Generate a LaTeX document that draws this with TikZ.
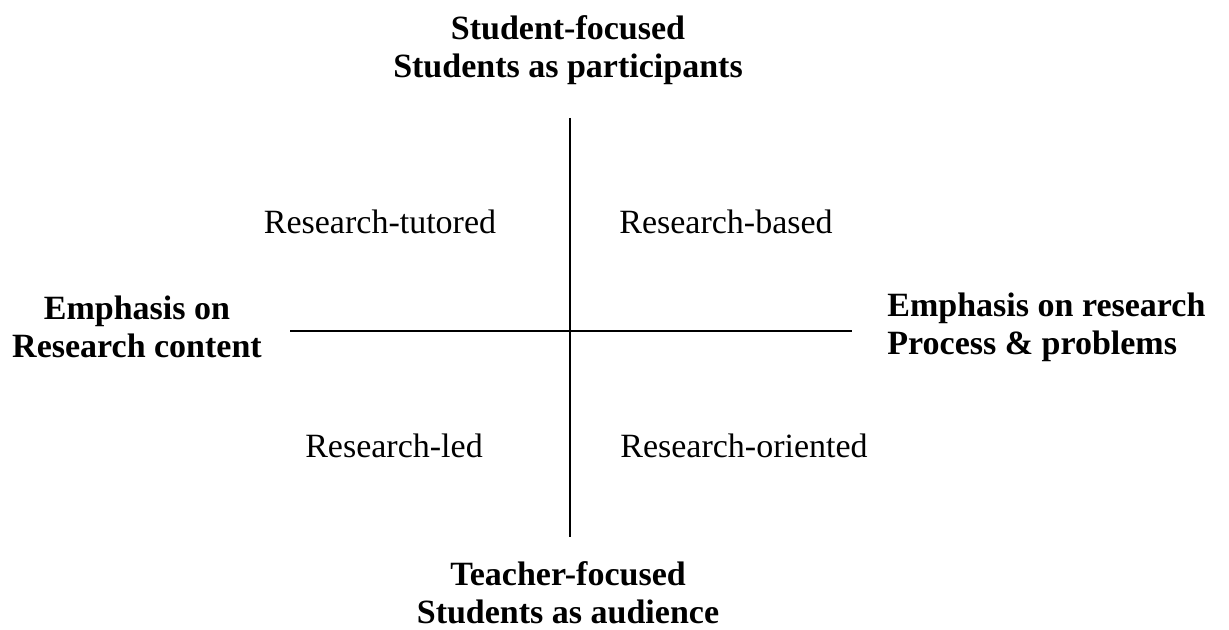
\documentclass[tikz,border=0pt]{standalone}
\usepackage{fontspec}
\setmainfont{Liberation Serif}
\begin{document}
\begin{tikzpicture}[x=0.5pt,y=-0.5pt,
    pole/.style={inner sep=0pt,align=center,font=\fontsize{17}{19}\selectfont\bfseries},
    quad/.style={inner sep=0pt,font=\fontsize{17}{19}\selectfont}]
  \useasboundingbox (0,0) rectangle (1229,630);
  \draw
    (568,50) node[pole] (top){Student-focused\\Students as participants}
    (568,593) node[pole] (bottom){Teacher-focused\\Students as audience}
    (137,327) node[pole] (left){Emphasis on\\Research content}
    (887,327) node[pole,align=left,anchor=west] (right){Emphasis on research\\Process \& problems}
    (380,222) node[quad] (tl){Research-tutored}
    (726,222) node[quad] (tr){Research-based}
    (394,446) node[quad] (bl){Research-led}
    (744,446) node[quad] (br){Research-oriented};
  \coordinate (n) at (570,118);
  \coordinate (s) at (570,537);
  \coordinate (w) at (290,331);
  \coordinate (e) at (852,331);
  \begin{scope}[-]
    \draw[line width=1pt] (n) to (s);
    \draw[line width=1.3pt] (w) to (e);
  \end{scope}
\end{tikzpicture}
\end{document}
